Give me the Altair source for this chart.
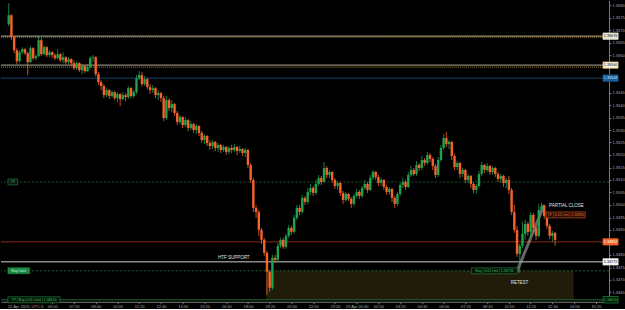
import altair as alt
import pandas as pd

# ---------------- data ----------------
# candles: 10-minute bars, time in minutes after 22 Apr 2025 00:00 (UTC-3)
first_bar_minute = 200
bar_minutes = 10
first_open = 1.35724

closes = [
    1.35760, 1.35672, 1.35620, 1.35576, 1.35612, 1.35624, 1.35608, 1.35572, 1.35628, 1.35588,
    1.35596, 1.35660, 1.35604, 1.35632, 1.35600, 1.35612, 1.35600, 1.35588, 1.35604, 1.35580,
    1.35592, 1.35572, 1.35584, 1.35568, 1.35548, 1.35568, 1.35540, 1.35556, 1.35536, 1.35552,
    1.35588, 1.35592, 1.35524, 1.35492, 1.35476, 1.35440, 1.35460, 1.35436, 1.35452, 1.35428,
    1.35444, 1.35424, 1.35440, 1.35432, 1.35468, 1.35436, 1.35452, 1.35508, 1.35520, 1.35484,
    1.35504, 1.35472, 1.35460, 1.35468, 1.35440, 1.35448, 1.35428, 1.35348, 1.35420, 1.35388,
    1.35404, 1.35368, 1.35332, 1.35352, 1.35320, 1.35340, 1.35308, 1.35324, 1.35300, 1.35316,
    1.35288, 1.35260, 1.35276, 1.35248, 1.35236, 1.35252, 1.35228, 1.35240, 1.35220, 1.35232,
    1.35212, 1.35228, 1.35220, 1.35232, 1.35216, 1.35224, 1.35208, 1.35220, 1.35160, 1.35100,
    1.34988, 1.34972, 1.34900, 1.34860, 1.34808, 1.34732, 1.34668, 1.34788, 1.34780, 1.34836,
    1.34860, 1.34832, 1.34876, 1.34908, 1.34892, 1.34948, 1.34988, 1.34972, 1.35028, 1.35012,
    1.35052, 1.35068, 1.35048, 1.35084, 1.35108, 1.35092, 1.35148, 1.35120, 1.35132, 1.35100,
    1.35076, 1.35088, 1.35048, 1.35020, 1.35044, 1.35024, 1.35004, 1.35036, 1.35052, 1.35036,
    1.35068, 1.35084, 1.35060, 1.35108, 1.35132, 1.35112, 1.35088, 1.35100, 1.35072, 1.35052,
    1.35064, 1.35028, 1.35004, 1.35044, 1.35080, 1.35092, 1.35072, 1.35120, 1.35140, 1.35124,
    1.35160, 1.35148, 1.35180, 1.35168, 1.35200, 1.35184, 1.35156, 1.35120, 1.35180, 1.35228,
    1.35268, 1.35244, 1.35252, 1.35196, 1.35152, 1.35168, 1.35124, 1.35140, 1.35100, 1.35116,
    1.35084, 1.35060, 1.35076, 1.35124, 1.35160, 1.35140, 1.35156, 1.35132, 1.35148, 1.35124,
    1.35104, 1.35116, 1.35088, 1.35100, 1.35060, 1.34972, 1.34900, 1.34804, 1.34836, 1.34884,
    1.34924, 1.34892, 1.34960, 1.34908, 1.34876, 1.34980, 1.34996, 1.34956, 1.34916, 1.34876,
    1.34888, 1.34860,
]

highs = [
    1.35808, 1.35764, 1.35676, 1.35628, 1.35620, 1.35632, 1.35628, 1.35612, 1.35636, 1.35632,
    1.35604, 1.35676, 1.35668, 1.35640, 1.35636, 1.35620, 1.35616, 1.35608, 1.35624, 1.35608,
    1.35612, 1.35596, 1.35592, 1.35588, 1.35580, 1.35576, 1.35572, 1.35564, 1.35560, 1.35564,
    1.35596, 1.35600, 1.35596, 1.35532, 1.35500, 1.35484, 1.35468, 1.35464, 1.35460, 1.35456,
    1.35452, 1.35448, 1.35452, 1.35448, 1.35476, 1.35472, 1.35460, 1.35520, 1.35536, 1.35532,
    1.35516, 1.35508, 1.35484, 1.35480, 1.35472, 1.35460, 1.35452, 1.35436, 1.35436, 1.35428,
    1.35420, 1.35408, 1.35376, 1.35360, 1.35356, 1.35352, 1.35344, 1.35336, 1.35328, 1.35324,
    1.35320, 1.35296, 1.35284, 1.35280, 1.35260, 1.35260, 1.35256, 1.35248, 1.35244, 1.35240,
    1.35236, 1.35236, 1.35240, 1.35244, 1.35236, 1.35236, 1.35228, 1.35228, 1.35224, 1.35168,
    1.35108, 1.35000, 1.34980, 1.34908, 1.34868, 1.34816, 1.34740, 1.34800, 1.34800, 1.34848,
    1.34868, 1.34868, 1.34884, 1.34920, 1.34916, 1.34960, 1.35000, 1.35000, 1.35040, 1.35036,
    1.35068, 1.35084, 1.35076, 1.35100, 1.35120, 1.35116, 1.35172, 1.35156, 1.35140, 1.35136,
    1.35108, 1.35096, 1.35092, 1.35056, 1.35052, 1.35048, 1.35032, 1.35044, 1.35064, 1.35060,
    1.35076, 1.35100, 1.35092, 1.35120, 1.35140, 1.35136, 1.35120, 1.35108, 1.35104, 1.35080,
    1.35072, 1.35068, 1.35036, 1.35052, 1.35088, 1.35108, 1.35100, 1.35132, 1.35156, 1.35148,
    1.35176, 1.35168, 1.35196, 1.35188, 1.35212, 1.35208, 1.35192, 1.35164, 1.35192, 1.35240,
    1.35284, 1.35292, 1.35260, 1.35256, 1.35204, 1.35176, 1.35172, 1.35148, 1.35144, 1.35124,
    1.35120, 1.35092, 1.35084, 1.35136, 1.35172, 1.35164, 1.35168, 1.35160, 1.35156, 1.35152,
    1.35132, 1.35124, 1.35120, 1.35108, 1.35116, 1.35068, 1.35000, 1.34916, 1.34844, 1.34932,
    1.34940, 1.34932, 1.34972, 1.34968, 1.34916, 1.35004, 1.35008, 1.35000, 1.34964, 1.34924,
    1.34896, 1.34892,
]

lows = [
    1.35716, 1.35660, 1.35608, 1.35564, 1.35568, 1.35604, 1.35600, 1.35520, 1.35568, 1.35580,
    1.35580, 1.35592, 1.35596, 1.35600, 1.35592, 1.35592, 1.35588, 1.35580, 1.35584, 1.35572,
    1.35568, 1.35564, 1.35564, 1.35556, 1.35540, 1.35540, 1.35532, 1.35524, 1.35528, 1.35532,
    1.35544, 1.35572, 1.35516, 1.35480, 1.35460, 1.35428, 1.35432, 1.35424, 1.35428, 1.35420,
    1.35412, 1.35396, 1.35420, 1.35416, 1.35424, 1.35428, 1.35428, 1.35444, 1.35500, 1.35476,
    1.35476, 1.35464, 1.35444, 1.35448, 1.35428, 1.35420, 1.35412, 1.35336, 1.35340, 1.35376,
    1.35372, 1.35356, 1.35320, 1.35324, 1.35308, 1.35312, 1.35296, 1.35300, 1.35288, 1.35284,
    1.35276, 1.35248, 1.35244, 1.35236, 1.35220, 1.35224, 1.35216, 1.35212, 1.35208, 1.35212,
    1.35200, 1.35204, 1.35208, 1.35212, 1.35200, 1.35208, 1.35196, 1.35192, 1.35148, 1.35088,
    1.34972, 1.34948, 1.34876, 1.34844, 1.34796, 1.34640, 1.34652, 1.34660, 1.34768, 1.34772,
    1.34828, 1.34824, 1.34824, 1.34868, 1.34880, 1.34884, 1.34940, 1.34960, 1.34964, 1.35000,
    1.35004, 1.35040, 1.35036, 1.35040, 1.35076, 1.35080, 1.35088, 1.35108, 1.35108, 1.35088,
    1.35064, 1.35060, 1.35036, 1.35004, 1.35012, 1.35016, 1.34988, 1.34996, 1.35028, 1.35024,
    1.35028, 1.35060, 1.35048, 1.35056, 1.35100, 1.35100, 1.35076, 1.35076, 1.35060, 1.35040,
    1.35040, 1.35012, 1.34988, 1.34996, 1.35036, 1.35068, 1.35060, 1.35068, 1.35112, 1.35116,
    1.35116, 1.35136, 1.35140, 1.35156, 1.35160, 1.35172, 1.35140, 1.35108, 1.35112, 1.35172,
    1.35220, 1.35232, 1.35224, 1.35180, 1.35140, 1.35140, 1.35108, 1.35112, 1.35088, 1.35088,
    1.35068, 1.35048, 1.35044, 1.35068, 1.35116, 1.35128, 1.35132, 1.35120, 1.35120, 1.35112,
    1.35092, 1.35088, 1.35072, 1.35068, 1.35044, 1.34960, 1.34888, 1.34792, 1.34728, 1.34828,
    1.34860, 1.34876, 1.34868, 1.34892, 1.34860, 1.34868, 1.34968, 1.34944, 1.34904, 1.34864,
    1.34852, 1.34836,
]

# horizontal levels
level_upper = 1.35676
level_upper_dots = 1.35672
level_mid = 1.35560
level_mid_dots = 1.35552
level_blue = 1.35508
level_green_high = 1.35092
level_red = 1.34852
level_grey = 1.34772
level_limit = 1.34736
level_bottom = 1.34620

# support zone and trend line
zone_start_minute, zone_end_minute = 1147, 2278
retest_line_minutes = [2069, 2170]
retest_line_prices = [1.34732, 1.35000]

# x axis ticks (every 80 minutes) and labels
date_label = "22 Apr 2025, UTC-3"
x_tick_minutes = [360, 440, 520, 600, 680, 760, 840, 920, 1000, 1080, 1160, 1240, 1320,
                  1400, 1480, 1560, 1640, 1720, 1800, 1880, 1960, 2040, 2120, 2200, 2280, 2360]
x_tick_labels = ["06:00", "07:20", "08:40", "10:00", "11:20", "12:40",
                 "14:00", "15:20", "16:40", "18:00", "19:20", "20:40", "22:00", "23:20",
                 "23 Apr 00:40", "02:00", "03:20", "04:40", "06:00", "07:20", "08:40", "10:00",
                 "11:20", "12:40", "14:00", "15:20"]
# price ticks every 0.0005 (the ones hidden under price tags are left out)
y_tick_values = [1.3580, 1.3575, 1.3570, 1.3565, 1.3560, 1.3545, 1.3540,
                 1.3535, 1.3530, 1.3525, 1.3520, 1.3515, 1.3510, 1.3505, 1.3500, 1.3495,
                 1.3490, 1.3480, 1.3475, 1.3470, 1.3465]

# ---------------- chart ----------------
GREEN = "#1fa24f"
ORANGE = "#f5632a"
FONT = "Liberation Sans"

opens = [first_open] + closes[:-1]
minutes = [first_bar_minute + bar_minutes * i for i in range(len(closes))]
candles = pd.DataFrame({"t": minutes, "open": opens, "close": closes, "high": highs, "low": lows})

x_scale = alt.Scale(domain=[190, 2390], nice=False, zero=False)
y_scale = alt.Scale(domain=[1.34612, 1.35820], nice=False, zero=False)

label_expr = "".join(f"datum.value == {m} ? '{l}' : " for m, l in zip(x_tick_minutes, x_tick_labels)) + "''"
x_axis = alt.Axis(values=x_tick_minutes, labelExpr=label_expr, title=None, grid=False,
                  labelFontSize=4, labelColor="#a8a8a8", labelFont=FONT, domainColor="#7a7a7a",
                  tickColor="#7a7a7a", tickSize=2, labelPadding=1, labelFlush=False,
                  labelOverlap=False)
y_axis = alt.Axis(orient="right", values=y_tick_values, format=".4f", title=None, grid=False,
                  labelFontSize=4, labelColor="#a8a8a8", labelFont=FONT, domainColor="#7a7a7a",
                  tickColor="#7a7a7a", tickSize=2, labelPadding=1, labelOverlap=False)


def X(field):
    return alt.X(f"{field}:Q", scale=x_scale, axis=x_axis)


def Y(field):
    return alt.Y(f"{field}:Q", scale=y_scale, axis=y_axis)


bull = alt.condition("datum.close >= datum.open", alt.value(GREEN), alt.value(ORANGE))

wicks = alt.Chart(candles).mark_rule(strokeWidth=0.8).encode(
    x=X("t"), y=Y("low"), y2="high", color=bull)
bodies = alt.Chart(candles).mark_bar(size=2.4).encode(
    x=X("t"), y=Y("open"), y2="close", color=bull)

zone = alt.Chart(pd.DataFrame({"a": [zone_start_minute], "b": [zone_end_minute],
                               "top": [level_limit], "bot": [level_bottom]})).mark_rect(
    color="#211b09").encode(x=X("a"), x2="b", y=Y("top"), y2="bot")


def level(price, color, width=1.0, dash=None, opacity=1.0):
    kw = dict(color=color, strokeWidth=width, opacity=opacity)
    if dash:
        kw["strokeDash"] = dash
    return alt.Chart(pd.DataFrame({"p": [price]})).mark_rule(**kw).encode(y=Y("p"))


levels = [
    level(level_upper, "#8f8a78", 1.2),
    level(level_upper_dots, "#c9a43c", 0.8, [1, 1]),
    level(level_mid, "#8f8a78", 1.2),
    level(level_mid_dots, "#c9a43c", 0.8, [1, 1]),
    level(level_blue, "#124673", 1.0),
    level(level_green_high, "#1d6a36", 0.8, [2, 2]),
    level(level_red, "#8c2b12", 1.0),
    level(level_grey, "#8a8a8a", 1.5),
    level(level_limit, "#1d7a3a", 0.8, [2, 2]),
    level(level_bottom, "#1d6a36", 1.0),
]

trend = alt.Chart(pd.DataFrame({"t": retest_line_minutes, "p": retest_line_prices})).mark_line(
    color="#b9b9b9", strokeWidth=3, opacity=0.55).encode(x=X("t"), y=Y("p"))


def text(t, p, s, color="#e0e0e0", align="left", size=4.5):
    return alt.Chart(pd.DataFrame({"t": [t], "p": [p], "s": [s]})).mark_text(
        align=align, baseline="middle", fontSize=size, font=FONT, color=color).encode(
        x=X("t"), y=Y("p"), text="s:N")


def box(t0, t1, p, s, fill, stroke, tcolor, half=0.00012, size=3.5):
    df = pd.DataFrame({"a": [t0], "b": [t1], "top": [p + half], "bot": [p - half],
                       "mid": [(t0 + t1) / 2], "p": [p], "s": [s]})
    r = alt.Chart(df).mark_rect(fill=fill, stroke=stroke, strokeWidth=0.6).encode(
        x=X("a"), x2="b", y=Y("top"), y2="bot")
    tx = alt.Chart(df).mark_text(align="center", baseline="middle", fontSize=size,
                                 font=FONT, color=tcolor).encode(x=X("mid"), y=Y("p"), text="s:N")
    return [r, tx]


annotations = [
    text(2188, 1.34996, "PARTIAL CLOSE"),
    text(970, 1.34788, "HTF SUPPORT"),
    text(2079, 1.34688, "RETEST", align="center"),
    text(197, 1.34592, date_label, color="#a8a8a8", size=4),
]

boxes = []
boxes += box(197, 233, level_green_high, "TP", "#07180c", "#1f8a40", "#3cc060")
boxes += box(197, 277, level_limit, "Buy Limit", "#1b8a40", "#1b8a40", "#d8f0dc")
boxes += box(197, 389, level_bottom, "TP | Buy 0.01 Limit | 1.34620", "#061409", "#1f8a40", "#3cc060")
boxes += box(1902, 2072, level_limit, "Buy | 0.01 Lmt | 1.34736", "#061409", "#1f8a40", "#3cc060")
boxes += box(2177, 2321, 1.34960, "TP | 0.01 Lmt | 1.34960", "#2a0f06", "#d85520", "#f07030")
# right-hand price tags
tag_a, tag_b = 2386, 2442
boxes += box(tag_a, tag_b, level_upper, f"{level_upper:.5f}", "#e8e4d4", "#e8e4d4", "#111111", 0.00013, 3.8)
boxes += box(tag_a, tag_b, level_mid, f"{level_mid:.5f}", "#f4f1e6", "#d9a63a", "#111111", 0.00013, 3.8)
boxes += box(tag_a, tag_b, level_blue, f"{level_blue:.5f}", "#1b5d96", "#1b5d96", "#d0e4f6", 0.00013, 3.8)
boxes += box(tag_a, tag_b, level_red, f"{level_red:.5f}", "#f2652b", "#f2652b", "#ffffff", 0.00013, 3.8)
boxes += box(tag_a, tag_b, level_grey, f"{level_grey:.5f}", "#f0f0f0", "#f0f0f0", "#111111", 0.00013, 3.8)
boxes += box(tag_a, tag_b, level_bottom, f"{level_bottom:.5f}", "#06140a", "#23a04a", "#3cc060", 0.00013, 3.8)

chart = alt.layer(zone, *levels, trend, wicks, bodies, *annotations, *boxes).properties(
    width=609, height=302, background="#000000", padding=0
).configure_view(stroke=None)

chart.save("out.html", embed_options={"renderer": "svg", "actions": False})
